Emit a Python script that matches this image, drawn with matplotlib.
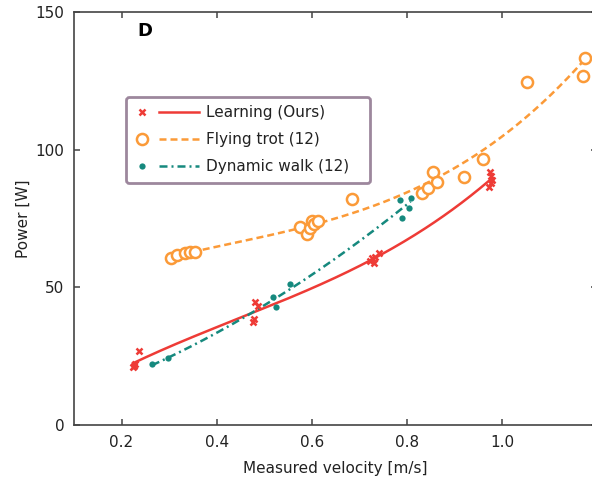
import matplotlib.pyplot as plt
import numpy as np
from matplotlib.lines import Line2D
from matplotlib.legend_handler import HandlerBase

# Measured velocity [m/s] and power [W] for each gait
learn_v = [0.224, 0.228, 0.226, 0.236, 0.476, 0.478, 0.481, 0.488, 0.722,
           0.727, 0.730, 0.733, 0.741, 0.975, 0.978, 0.972, 0.980, 0.977]
learn_p = [21.0, 22.0, 21.5, 26.9, 37.5, 38.5, 44.8, 43.2, 59.5,
           60.5, 59.0, 61.0, 62.4, 92.0, 90.5, 86.5, 89.0, 88.0]

trot_v = [0.303, 0.317, 0.333, 0.344, 0.354, 0.576, 0.590, 0.596, 0.600, 0.605,
          0.614, 0.684, 0.833, 0.845, 0.855, 0.864, 0.920, 0.961, 1.053, 1.170, 1.174]
trot_p = [60.5, 61.7, 62.4, 62.7, 63.0, 72.0, 69.5, 71.5, 74.0, 73.0,
          74.0, 82.1, 84.2, 86.0, 91.8, 88.4, 90.0, 96.5, 124.7, 126.9, 133.4]

walk_v = [0.264, 0.298, 0.519, 0.524, 0.555, 0.785, 0.790, 0.804, 0.808]
walk_p = [22.0, 24.2, 46.6, 43.0, 51.2, 81.7, 75.3, 78.7, 82.6]

labels = ['Learning (Ours)', 'Flying trot (12)', 'Dynamic walk (12)']
x_ticks = [0.2, 0.4, 0.6, 0.8, 1.0]
y_ticks = [0, 50, 100, 150]

red = '#ee3b36'
orange = '#fb9a38'
teal = '#16897e'


class MarkerLineHandler(HandlerBase):
    # marker on the left, line segment to its right
    def create_artists(self, legend, orig_handle, xdescent, ydescent,
                       width, height, fontsize, trans):
        mk, ln = orig_handle
        y = height / 2 - ydescent
        dot = Line2D([-xdescent + 0.12 * width], [y])
        dot.update_from(mk)
        seg = Line2D([-xdescent + 0.38 * width, -xdescent + width], [y, y])
        seg.update_from(ln)
        for a in (dot, seg):
            a.set_transform(trans)
        return [dot, seg]


def fit_curve(v, p, deg):
    coef = np.polyfit(v, p, deg)
    xs = np.linspace(min(v), max(v), 200)
    return xs, np.polyval(coef, xs)


fig = plt.figure(figsize=(5.92, 4.82), dpi=100)
ax = fig.add_axes([0.125, 0.1183, 0.8834, 0.8568])

# fitted curves
xs, ys = fit_curve(learn_v, learn_p, 3)
ln_l, = ax.plot(xs, ys, color=red, lw=1.8, zorder=2)
xs, ys = fit_curve(trot_v, trot_p, 3)
ln_t, = ax.plot(xs, ys, color=orange, lw=1.8, linestyle=(0, (2.8, 1.6)), zorder=2)
xs, ys = fit_curve(walk_v, walk_p, 2)
ln_w, = ax.plot(xs, ys, color=teal, lw=1.8, linestyle=(0, (3.2, 1.6, 0.8, 1.6)), zorder=2)

# measurements
mk_l, = ax.plot(learn_v, learn_p, 'x', color=red, ms=5, mew=1.8, linestyle='none', zorder=3)
mk_t, = ax.plot(trot_v, trot_p, 'o', color=orange, mfc='white', ms=8, mew=1.8,
                linestyle='none', zorder=3)
mk_w, = ax.plot(walk_v, walk_p, 'o', color=teal, ms=4.5, mew=0, linestyle='none', zorder=3)

ax.set_xlim(0.1, 1.2)
ax.set_ylim(0, 150)
ax.set_xticks(x_ticks)
ax.set_xticklabels([f'{t:.1f}' for t in x_ticks])
ax.set_yticks(y_ticks)

for s in ax.spines.values():
    s.set_color('#444444')
    s.set_linewidth(1.2)
ax.tick_params(direction='in', length=4.5, width=1.1, color='#444444',
               labelsize=11, labelcolor='#222222', pad=7,
               top=True, right=True)

ax.set_xlabel('Measured velocity [m/s]', fontsize=11, color='#222222', labelpad=8)
ax.set_ylabel('Power [W]', fontsize=11, color='#222222', labelpad=3)

ax.text(0.135, 0.955, 'D', transform=ax.transAxes, fontsize=13,
        fontweight='bold', va='center', ha='center')

leg = ax.legend([(mk_l, ln_l), (mk_t, ln_t), (mk_w, ln_w)], labels,
                handler_map={tuple: MarkerLineHandler()},
                loc='upper left', bbox_to_anchor=(0.0994, 0.588, 0.466, 0.206),
                mode='expand', borderaxespad=0, fontsize=11,
                handlelength=4.25, handletextpad=0.45, labelspacing=0.78,
                borderpad=0.55, fancybox=True, framealpha=1)
frame = leg.get_frame()
frame.set_edgecolor('#9d879d')
frame.set_linewidth(2)
for t in leg.get_texts():
    t.set_color('#222222')

fig.savefig('out.png', dpi=100, facecolor='white')
